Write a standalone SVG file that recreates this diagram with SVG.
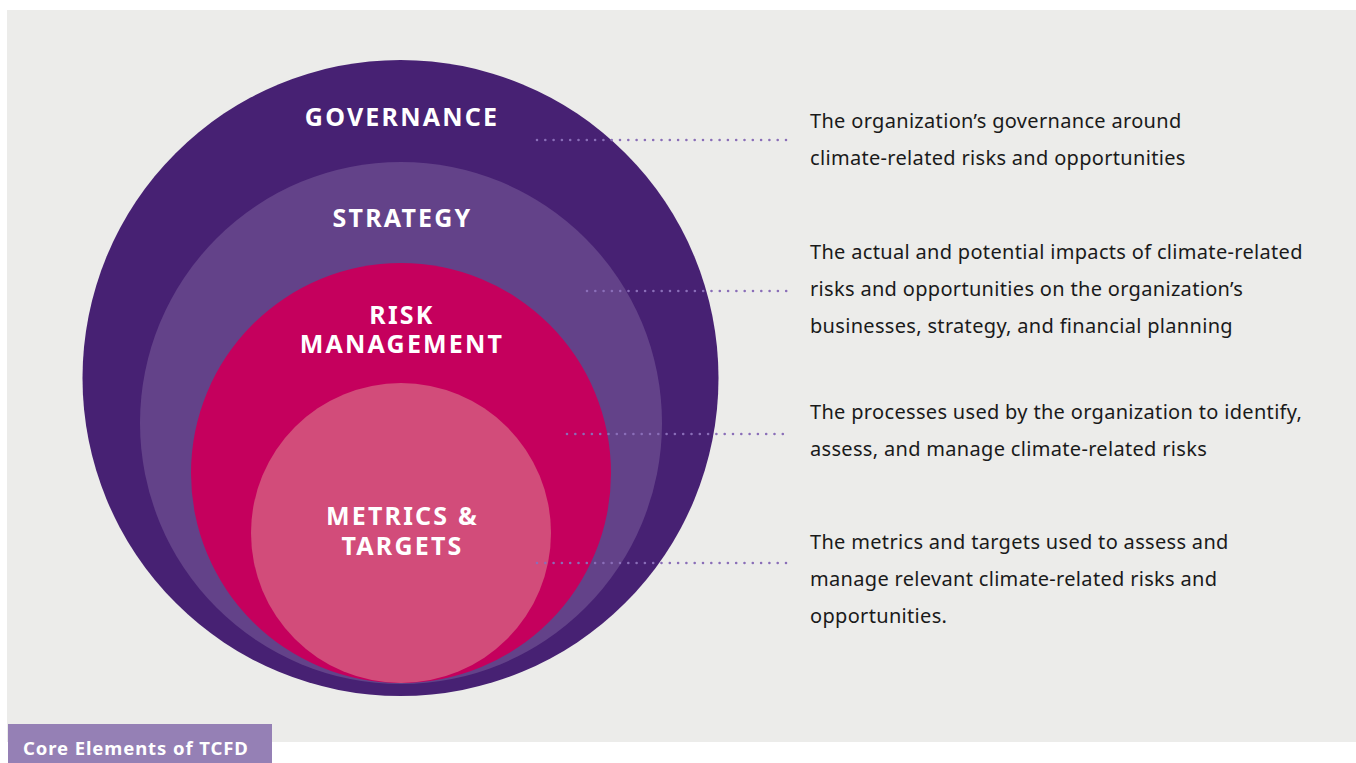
<svg xmlns="http://www.w3.org/2000/svg" width="1356" height="763" viewBox="0 0 1356 763">
<style>
.lbl{font-family:"Noto Sans","Liberation Sans",sans-serif;font-weight:bold;font-size:25px;letter-spacing:2.2px;fill:#ffffff;text-anchor:middle}
.desc{font-family:"Noto Sans","Liberation Sans",sans-serif;font-size:20px;letter-spacing:0.32px;fill:#1a1a1a}
.dots{stroke:#8A6EB8;stroke-width:2.6;stroke-linecap:round;stroke-dasharray:0 8.3;fill:none}
</style>
<rect x="0" y="0" width="1356" height="763" fill="#ffffff"/>
<rect x="7" y="10" width="1349" height="732" fill="#ECECEA"/>
<g id="governance">
<circle cx="400.5" cy="378" r="318" fill="#472173"/>
<text class="lbl" x="402" y="126">GOVERNANCE</text>
</g>
<g id="strategy">
<circle cx="401" cy="423" r="261" fill="#634289"/>
<text class="lbl" x="402.5" y="227">STRATEGY</text>
</g>
<g id="risk-management">
<circle cx="401" cy="473" r="210" fill="#C5005D"/>
<text class="lbl" x="402" y="324">RISK</text>
<text class="lbl" x="402" y="353">MANAGEMENT</text>
</g>
<g id="metrics-targets">
<circle cx="401" cy="533" r="150" fill="#D24C7A"/>
<text class="lbl" x="402.5" y="525">METRICS &amp;</text>
<text class="lbl" x="402.5" y="555">TARGETS</text>
</g>
<g id="connectors">
<path class="dots" d="M537 140H788"/>
<path class="dots" d="M587 291H788"/>
<path class="dots" d="M567 434H788"/>
<path class="dots" d="M537 563H788"/>
</g>
<g id="desc-governance">
<text class="desc" x="810" y="128">The organization’s governance around</text>
<text class="desc" x="810" y="165">climate-related risks and opportunities</text>
</g>
<g id="desc-strategy">
<text class="desc" x="810" y="259">The actual and potential impacts of climate-related</text>
<text class="desc" x="810" y="296">risks and opportunities on the organization’s</text>
<text class="desc" x="810" y="333">businesses, strategy, and financial planning</text>
</g>
<g id="desc-risk">
<text class="desc" x="810" y="419">The processes used by the organization to identify,</text>
<text class="desc" x="810" y="456">assess, and manage climate-related risks</text>
</g>
<g id="desc-metrics">
<text class="desc" x="810" y="549">The metrics and targets used to assess and</text>
<text class="desc" x="810" y="586">manage relevant climate-related risks and</text>
<text class="desc" x="810" y="623">opportunities.</text>
</g>
<g id="caption">
<rect x="8" y="724" width="264" height="39" fill="#9580B5"/>
<text x="23" y="755" style="font-family:'Noto Sans','Liberation Sans',sans-serif;font-weight:bold;font-size:18.5px;letter-spacing:0.9px;fill:#ffffff">Core Elements of TCFD</text>
</g>
</svg>
